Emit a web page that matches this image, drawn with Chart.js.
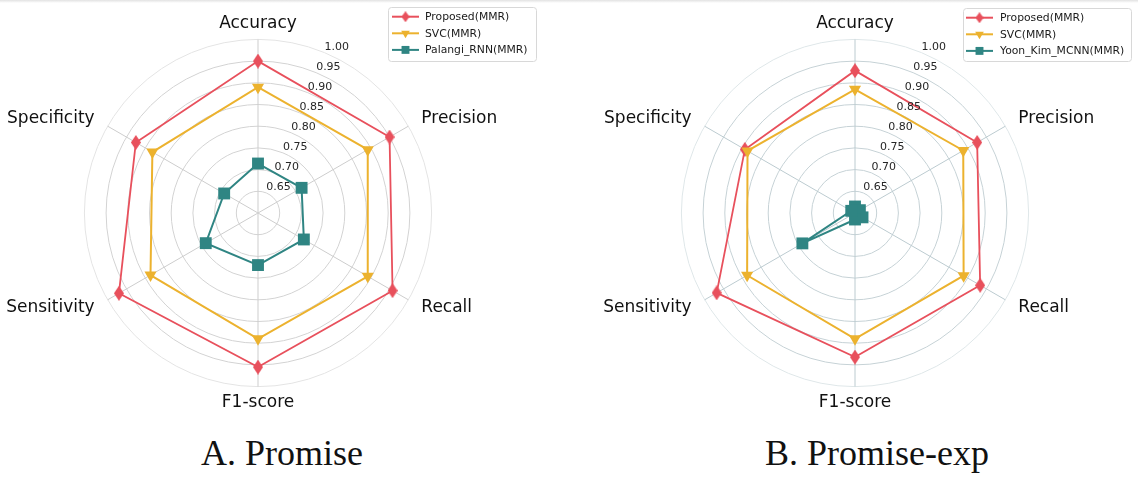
<!DOCTYPE html>
<html>
<head>
<meta charset="utf-8">
<script src="https://cdn.jsdelivr.net/npm/chart.js@4.4.0/dist/chart.umd.min.js"></script>
<style>
  html,body{margin:0;padding:0;background:#fff;}
  body{width:1138px;height:477px;position:relative;overflow:hidden;font-family:"DejaVu Sans",sans-serif;}
  .topbar{position:absolute;left:0;top:0;width:1138px;height:3px;background:linear-gradient(#e2e2e2,#fff);}
  canvas{position:absolute;top:0;}
  #chartA{left:-6px;}
  #chartB{left:591px;}
  .cap{position:absolute;top:435px;width:400px;text-align:center;font-family:"Liberation Serif",serif;font-size:36px;line-height:36px;color:#111;}
</style>
</head>
<body>
<div class="topbar"></div>
<canvas id="chartA" width="560" height="420"></canvas>
<canvas id="chartB" width="547" height="420"></canvas>
<div class="cap" style="left:82px">A. Promise</div>
<div class="cap" style="left:677px">B. Promise-exp</div>
<script>
// axes, clockwise from the top
const categories = ['Accuracy', 'Precision', 'Recall', 'F1-score', 'Sensitivity', 'Specificity'];
const gridValues = [0.6, 0.65, 0.7, 0.75, 0.8, 0.85, 0.9, 0.95, 1.0];
const tickLabels = ['0.65', '0.70', '0.75', '0.80', '0.85', '0.90', '0.95', '1.00'];

// A. Promise
const promiseProposed = [0.950, 0.950, 0.958, 0.955, 0.970, 0.925];
const promiseSvc      = [0.890, 0.892, 0.892, 0.890, 0.886, 0.881];
const promisePalangi  = [0.714, 0.716, 0.722, 0.720, 0.739, 0.690];

// B. Promise-exp
const expProposed = [0.928, 0.925, 0.933, 0.932, 0.968, 0.893];
const expSvc      = [0.885, 0.888, 0.889, 0.890, 0.887, 0.886];
const expYoonKim  = [0.615, 0.613, 0.620, 0.615, 0.740, 0.610];

const RED = '#e8505c', YELLOW = '#ecb22e', TEAL = '#2f8583';

// thin diamond marker (matplotlib 'd')
function makeDiamond(w, h, color){
  const c = document.createElement('canvas');
  c.width = w; c.height = h;
  const g = c.getContext('2d');
  g.fillStyle = color;
  g.beginPath();
  g.moveTo(w/2, 0); g.lineTo(w, h/2); g.lineTo(w/2, h); g.lineTo(0, h/2);
  g.closePath(); g.fill();
  return c;
}
const diamond = makeDiamond(10, 15, RED);
const diamondSmall = makeDiamond(8, 11, RED);

function makeDatasets(names, series){
  return [
    {label: names[0], data: series[0], borderColor: RED, backgroundColor: RED, borderWidth: 1.8,
     pointStyle: diamond, legendStyle: diamondSmall, pointRadius: 6, order: 2},
    {label: names[1], data: series[1], borderColor: YELLOW, backgroundColor: YELLOW, borderWidth: 2,
     pointStyle: 'triangle', pointRotation: 180, pointRadius: 7, legendRadius: 5, order: 1},
    {label: names[2], data: series[2], borderColor: TEAL, backgroundColor: TEAL, borderWidth: 2,
     pointStyle: 'rect', pointRadius: 8.4, legendRadius: 5.6, order: 0}
  ].map(d => Object.assign(d, {fill: false, tension: 0, pointBorderWidth: 0,
      pointBackgroundColor: d.borderColor, pointHoverRadius: d.pointRadius}));
}

// r tick labels, placed at 22.5 deg like matplotlib
const rLabels = {
  id: 'rLabels',
  afterDatasetsDraw(chart){
    const s = chart.scales.r, ctx = chart.ctx;
    const a = 22.5 * Math.PI / 180;
    ctx.save();
    ctx.font = '11px "DejaVu Sans"';
    ctx.fillStyle = '#262626';
    ctx.textAlign = 'left';
    ctx.textBaseline = 'bottom';
    tickLabels.forEach((t, i) => {
      const d = s.getDistanceFromCenterForValue(gridValues[i + 1]);
      ctx.fillText(t, s.xCenter + d * Math.sin(a), s.yCenter - d * Math.cos(a));
    });
    ctx.restore();
  }
};

// boxed legend in the top-right corner
const boxLegend = {
  id: 'boxLegend',
  afterDraw(chart, args, o){
    const ctx = chart.ctx;
    ctx.save();
    ctx.fillStyle = 'rgba(255,255,255,0.85)';
    ctx.strokeStyle = '#d8d8d8';
    ctx.lineWidth = 1;
    ctx.beginPath();
    ctx.roundRect(o.x + 0.5, o.y + 0.5, o.w, o.h, 3);
    ctx.fill(); ctx.stroke();
    ctx.font = '10.8px "DejaVu Sans"';
    ctx.textBaseline = 'middle';
    chart.data.datasets.forEach((ds, i) => {
      const y = o.y + 9.7 + i * 16.6;
      ctx.strokeStyle = ds.borderColor;
      ctx.lineWidth = 2;
      ctx.beginPath(); ctx.moveTo(o.lx, y); ctx.lineTo(o.lx + 27, y); ctx.stroke();
      ctx.fillStyle = ds.borderColor;
      Chart.helpers.drawPoint(ctx, {pointStyle: ds.legendStyle || ds.pointStyle,
        rotation: ds.pointRotation || 0, radius: ds.legendRadius || 5, borderWidth: 0}, o.lx + 13.5, y);
      ctx.fillStyle = '#1a1a1a';
      ctx.fillText(ds.label, o.tx, y + 0.5);
    });
    ctx.restore();
  }
};

function radarOptions(gridColor, outerColor, axisColor, legendPos, padRight){
  const sideLabel = c => c.index === 0 || c.index === 3;
  return {
    responsive: false,
    animation: false,
    layout: {padding: {top: 13, bottom: 7, left: 0, right: padRight}},
    plugins: {legend: {display: false}, tooltip: {enabled: false}, boxLegend: legendPos},
    scales: {
      r: {
        min: 0.6, max: 1.0,
        afterBuildTicks: s => { s.ticks = gridValues.map(v => ({value: v})); },
        ticks: {display: false},
        grid: {circular: true, lineWidth: 1,
          color: c => (c.tick && c.tick.value > 0.99) ? outerColor : gridColor},
        angleLines: {color: axisColor, lineWidth: 1},
        pointLabels: {
          color: '#111',
          padding: c => sideLabel(c) ? 6 : 15,
          font: c => ({family: 'DejaVu Sans', size: 17, lineHeight: sideLabel(c) ? 1.2 : 0})
        }
      }
    }
  };
}

new Chart(document.getElementById('chartA'), {
  type: 'radar',
  data: {labels: categories,
    datasets: makeDatasets(['Proposed(MMR)', 'SVC(MMR)', 'Palangi_RNN(MMR)'],
      [promiseProposed, promiseSvc, promisePalangi])},
  options: radarOptions('#d3d3d3', '#e4e4e4', '#cdcdcd', {x: 394, y: 7, w: 148, h: 54, lx: 398, tx: 431}, 46),
  plugins: [rLabels, boxLegend]
});

new Chart(document.getElementById('chartB'), {
  type: 'radar',
  data: {labels: categories,
    datasets: makeDatasets(['Proposed(MMR)', 'SVC(MMR)', 'Yoon_Kim_MCNN(MMR)'],
      [expProposed, expSvc, expYoonKim])},
  options: radarOptions('#c6d2d6', '#dfe7e9', '#bccbd0', {x: 372, y: 8, w: 168, h: 53, lx: 375, tx: 409}, 33),
  plugins: [rLabels, boxLegend]
});
</script>
</body>
</html>
